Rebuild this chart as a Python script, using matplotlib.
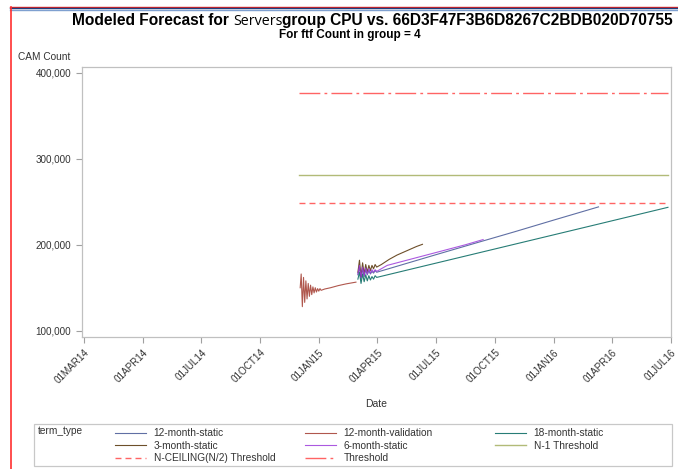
import numpy as np
import matplotlib
matplotlib.use("Agg")
import matplotlib.pyplot as plt
from matplotlib.lines import Line2D
from matplotlib.ticker import FuncFormatter

plt.rcParams['font.family'] = ['Liberation Sans', 'DejaVu Sans']

# x is in "tick months": tick i sits at 3*i
tick_pos = [0, 3, 6, 9, 12, 15, 18, 21, 24, 27, 30]
tick_lab = ["01MAR14", "01APR14", "01JUL14", "01OCT14", "01JAN15", "01APR15",
            "01JUL15", "01OCT15", "01JAN16", "01APR16", "01JUL16"]

# values in thousands
val_x = [11.05, 11.10, 11.16, 11.22, 11.28, 11.34, 11.40, 11.46, 11.52, 11.58, 11.64,
         11.70, 11.76, 11.82, 11.88, 11.94, 12.0, 12.06, 12.12, 12.3, 12.6, 13.0, 13.4, 13.9]
val_y = [150, 166, 128, 162, 133, 158, 137, 155, 140, 153, 142,
         151, 144, 150, 145, 149, 146, 149, 147, 148.5, 150, 152.5, 154.5, 156.5]

m3_x = [14.0, 14.08, 14.16, 14.24, 14.32, 14.40, 14.48, 14.56, 14.64, 14.72, 14.80,
        14.88, 14.96, 15.2, 15.6, 16.0, 16.5, 17.0, 17.3]
m3_y = [168, 182, 163, 179, 166, 177, 168, 176, 170, 176, 172,
        177, 174, 177, 183, 188, 193, 198, 200.5]

m6_x = [14.0, 14.08, 14.16, 14.24, 14.32, 14.40, 14.48, 14.56, 14.64, 14.72, 14.80,
        14.88, 14.96, 15.5, 16.5, 17.5, 18.5, 19.5, 20.4]
m6_y = [166, 176, 162, 174, 164, 173, 166, 172, 167, 171, 168,
        171, 169, 176, 182, 188, 194, 200, 206]

m12_x = [14.0, 14.08, 14.16, 14.24, 14.32, 14.40, 14.48, 14.56, 14.64, 14.72, 14.80,
         14.88, 14.96, 16.0, 18.0, 20.0, 22.0, 24.0, 26.3]
m12_y = [165, 174, 161, 172, 163, 171, 165, 170, 166, 169, 167,
         170, 168, 175, 188.5, 201.8, 215, 228.6, 244]

m18_x = [14.0, 14.08, 14.16, 14.24, 14.32, 14.40, 14.48, 14.56, 14.64, 14.72, 14.80,
         14.88, 14.96, 17.0, 20.0, 23.0, 26.0, 29.85]
m18_y = [160, 168, 155, 166, 157, 165, 158, 164, 159, 163, 160,
         164, 162, 173.2, 189.6, 206, 222.4, 243.5]

thr_x = [11.0, 29.85]
thr_y = [376, 376]
n1_y = [281, 281]
nceil_y = [248, 248]

k = 1000
fig = plt.figure(figsize=(6.78, 4.69), dpi=100)
ax = fig.add_axes([0.1205, 0.2814, 0.869, 0.5751])

c12 = '#445694'
cval = '#A23A2E'
c18 = '#01665E'
c3 = '#543005'
c6 = '#9D3CDB'
cn1 = '#7F8E1F'
cred = '#FF3030'

h12, = ax.plot(m12_x, np.array(m12_y) * k, color=c12, lw=0.8, alpha=0.85, label='12-month-static')
hval, = ax.plot(val_x, np.array(val_y) * k, color=cval, lw=0.8, alpha=0.85, label='12-month-validation')
h18, = ax.plot(m18_x, np.array(m18_y) * k, color=c18, lw=0.8, alpha=0.85, label='18-month-static')
h3, = ax.plot(m3_x, np.array(m3_y) * k, color=c3, lw=0.8, alpha=0.85, label='3-month-static')
h6, = ax.plot(m6_x, np.array(m6_y) * k, color=c6, lw=0.8, alpha=0.85, label='6-month-static')
hn1, = ax.plot(thr_x, np.array(n1_y) * k, color=cn1, lw=1.0, alpha=0.6, label='N-1 Threshold')
hnc, = ax.plot(thr_x, np.array(nceil_y) * k, color=cred, lw=1.0, alpha=0.75,
               dashes=(4.3, 2.9), label='N-CEILING(N/2) Threshold')
hth, = ax.plot(thr_x, np.array(thr_y) * k, color=cred, lw=1.0, alpha=0.75,
               dashes=(15, 3, 2, 3), label='Threshold')

ax.set_xlim(-0.12, 29.9)
ax.set_ylim(92700, 406300)
ax.set_xticks(tick_pos)
ax.set_xticklabels(tick_lab, rotation=45, ha='right', rotation_mode='anchor')
ax.set_yticks([100000, 200000, 300000, 400000])
ax.yaxis.set_major_formatter(FuncFormatter(lambda v, p: f"{int(v):,}"))
ax.tick_params(labelsize=7.1, colors='#A0A0A0', labelcolor='#333333', length=4, width=0.8)
for s in ax.spines.values():
    s.set_color('#C0C0C0')
    s.set_linewidth(0.9)
ax.set_xlabel('Date', fontsize=7.5, color='#333333', labelpad=10)
fig.text(0.0265, 0.868, 'CAM Count', fontsize=7.3, color='#333333', ha='left', va='bottom')

# title in three pieces, scaled to span the same width as the original
narrow = ['Liberation Sans Narrow', 'Liberation Sans']
parts = [("Modeled Forecast for ", dict(fontweight='bold', family=narrow), 1.0),
         ("Servers", dict(fontweight='normal', family=['Open Sans']), 0.92),
         ("group CPU vs. 66D3F47F3B6D8267C2BDB020D70755",
          dict(fontweight='bold', family=narrow), 1.0)]
ty = 1 - 25 / 469
x0 = 72 / 678
target = (676 - 72) / 678
size = 12.0
r = fig.canvas.get_renderer()
for attempt in range(3):
    arts = []
    xx = x0
    for txt, kw, f in parts:
        t = fig.text(xx, ty, txt, va='baseline', ha='left', color='black',
                     fontsize=size * f, **kw)
        bb = t.get_window_extent(renderer=r)
        xx = bb.x1 / fig.bbox.width
        arts.append(t)
    w = xx - x0
    if attempt < 2:
        for t in arts:
            t.remove()
        size = size * target / w

fig.text(350 / 678, 1 - 38 / 469, 'For ftf Count in group = 4', fontsize=8.5, fontweight='bold',
         family=narrow, ha='center', va='baseline')

# legend box
box = plt.Rectangle((34 / 678, 1 - 466 / 469), (672 - 34) / 678, 42 / 469,
                    transform=fig.transFigure, fill=False, edgecolor='#C8C8C8', lw=0.9)
fig.add_artist(box)
fig.text(38 / 678, 1 - 431 / 469, 'term_type', fontsize=7.3, color='#333333', va='center')
cols = [([h12, h3, hnc], 108), ([hval, h6, hth], 298), ([h18, hn1], 488)]
for hs, xp in cols:
    fig.legend(handles=hs, loc='upper left', bbox_to_anchor=(xp / 678, 1 - 421 / 469),
               frameon=False, fontsize=7.3, handlelength=3.0, handletextpad=0.8,
               labelspacing=0.25, borderpad=0.2, labelcolor='#333333')

# page border lines
fig.add_artist(Line2D([10 / 678, 1], [1 - 7 / 469] * 2, color='#E02020', lw=1.0))
fig.add_artist(Line2D([10 / 678, 1], [1 - 8.5 / 469] * 2, color='#1F3F7F', lw=1.0))
fig.add_artist(Line2D([10 / 678, 1], [1 - 10 / 469] * 2, color='#7FA0D0', lw=1.0))
fig.add_artist(Line2D([10.5 / 678] * 2, [0, 1 - 7 / 469], color='#FF3030', lw=1.2))

fig.savefig('out.png', dpi=100)
